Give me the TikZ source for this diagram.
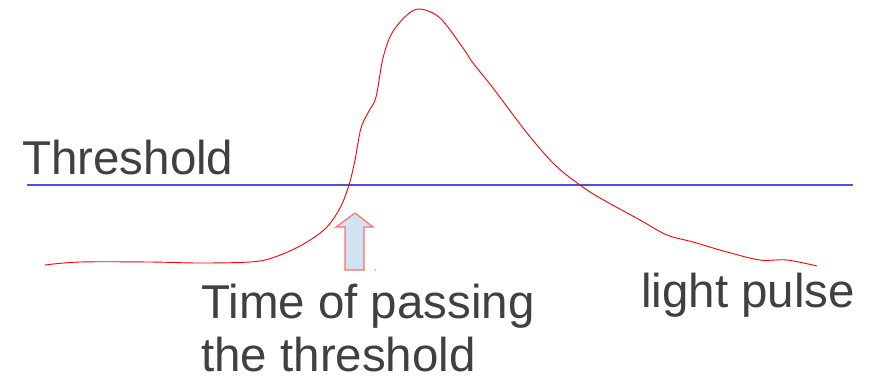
\documentclass[tikz,border=0pt]{standalone}
\usepackage{fontspec}
\setmainfont{Liberation Sans}
\definecolor{txtgray}{RGB}{64,64,64}
\definecolor{thrblue}{RGB}{80,80,220}
\definecolor{arrfill}{RGB}{207,227,240}
\definecolor{arredge}{RGB}{255,110,110}
\tikzset{
  lbl/.style={anchor=base west, inner sep=0pt, text=txtgray, font=\fontsize{47.5}{54}\selectfont},
  pulse/.style={red, line width=0.9pt},
  thr/.style={thrblue, line width=1.2pt},
  blockarrow/.style={fill=arrfill, draw=arredge, line width=1.2pt, line join=miter}
}
\begin{document}
\begin{tikzpicture}[x=1pt,y=-1pt]
\useasboundingbox (0,0) rectangle (878,378);
% threshold line
\coordinate (tl) at (27,185);
\coordinate (tr) at (853,185);
\draw[thr] (tl) -- (tr);
% pulse
\draw[pulse] plot[smooth, tension=0.55] coordinates {(45,265) (80,262) (150,262) (200,263) (250,262) (272,258) (300,246) (325,229) (340,208) (349,185) (355,160) (361,128) (369,111) (376,97) (383,58) (392,33) (407,15) (420,9) (440,18) (463,48) (473,63) (493,88) (527,133) (555,165) (580,185) (600,198) (640,220) (667,235) (693,242) (727,252) (760,260) (787,260) (817,266)};
% block arrow
\draw[blockarrow] (355,213) -- (373,227) -- (364,227) -- (364,270) -- (345,270) -- (345,227) -- (336,227) -- cycle;
\fill[arredge] (375,270) circle (0.8);
% labels
\node[lbl] (threshold) at (22,174) {Threshold};
\node[lbl] (time1) at (201,318) {Time of passing};
\node[lbl] (time2) at (201,371) {the threshold};
\node[lbl] (light) at (641,307) {light pulse};
\end{tikzpicture}
\end{document}
